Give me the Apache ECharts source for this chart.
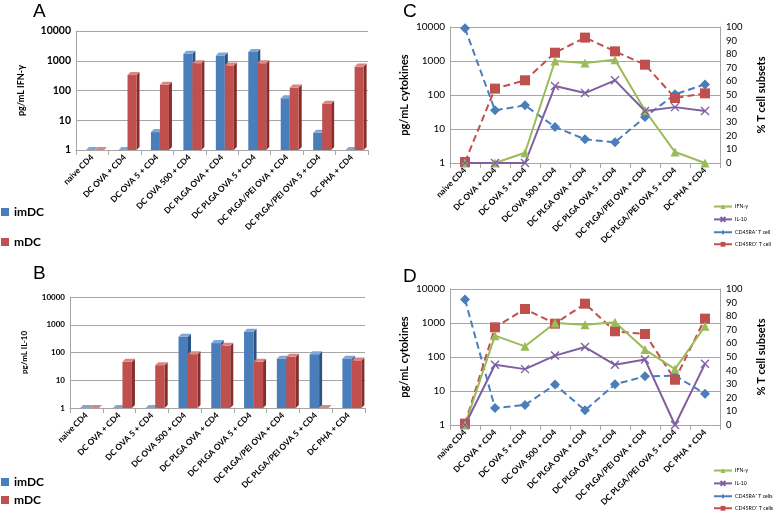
<!DOCTYPE html>
<html><head><meta charset="utf-8">
<script src="https://cdn.jsdelivr.net/npm/echarts@6/dist/echarts.min.js"></script>
<style>html,body{margin:0;padding:0;background:#fff}#c{width:778px;height:514px}</style>
</head><body><div id="c"></div>
<script>
const categories = ["naive CD4","DC OVA + CD4","DC OVA 5 + CD4","DC OVA 500 + CD4","DC PLGA OVA + CD4","DC PLGA OVA 5 + CD4","DC PLGA/PEI OVA + CD4","DC PLGA/PEI OVA 5 + CD4","DC PHA + CD4"];
// Panel A: IFN-γ (pg/mL)
const ifnImDC = [1,1,4,1730,1500,1950,55,3.8,1];
const ifnMDC  = [1,330,156,820,690,820,126,36,635];
// Panel B: IL-10 (pg/mL)
const il10ImDC = [1,1,1,370,218,565,60,87,60];
const il10MDC  = [1,46,35,87,175,46,70,1,52];
// Panel C
const ifnC  = [1,1,2,1000,870,1090,35,2.1,1];
const il10C = [1,1,1,183,114,270,34,44,34];
const raC   = [99,38.7,42.4,26.5,17.4,15.2,33.8,50.5,57.8];
const roC   = [0.7,54.7,60.8,81.1,92.2,82.1,72.3,47.8,51.2];
// Panel D
const ifnD  = [1,425,206,1000,890,1050,165,44,800];
const il10D = [1,59,44,110,196,59,84,1,63];
const raD   = [92.2,12.5,14.7,29.7,10.8,29.9,35.8,36.3,23.0];
const roD   = [1,71.8,85.3,74.5,89.2,68.9,66.9,33.3,78.2];
const logTicks = ["1","10","100","1000","10000"];

const FONT = 'Lato';
const BLUE = '#4A7EBB', RED = '#C0504D', GREEN = '#9BBB59', PURPLE = '#7F5FA0';

function bar3D(idx, front, side, top, barW){
  return function(params, api){
    const i = api.value(0), v = api.value(1);
    const c = api.coord([i, v]);
    const b = api.coord([i, 1]);
    const band = api.coord([1,1])[0] - api.coord([0,1])[0];
    const x0 = c[0] - band*0.19 + idx*barW;
    const x1 = x0 + barW;
    const yt = c[1], yb = b[1], d = 3;
    return {type:'group', children:[
      {type:'polygon', shape:{points:[[x1,yt],[x1+d,yt-d],[x1+d,yb-d],[x1,yb]]}, style:{fill:side}},
      {type:'rect', shape:{x:x0, y:yt, width:barW, height:Math.max(yb-yt,0)}, style:{fill:front}},
      {type:'polygon', shape:{points:[[x0,yt],[x0+d,yt-d],[x1+d,yt-d],[x1,yt]]}, style:{fill:top}}
    ]};
  };
}
function pairs(arr){ return arr.map((v,i)=>[i,v]); }

function catAxis(gi, fs){
  return {type:'category', gridIndex:gi, data:categories, boundaryGap:true,
    axisLine:{lineStyle:{color:'#A6A6A6'}}, axisTick:{show:true, interval:0, lineStyle:{color:'#A6A6A6'}},
    axisLabel:{interval:0, rotate:45, fontFamily:FONT, fontWeight:'bold', fontSize:fs, color:'#000', margin:6}};
}
function logAxis(gi, fs, name, nfs, gap, bold){
  return {type:'log', logBase:10, gridIndex:gi, min:1, max:10000, name:name, nameLocation:'middle', nameGap:gap,
    nameTextStyle:{fontFamily:FONT, fontWeight:'bold', fontSize:nfs, color:'#000'},
    axisLine:{show:true, lineStyle:{color:'#A6A6A6'}}, axisTick:{show:false},
    splitLine:{show:true, lineStyle:{color:'#A6A6A6'}},
    axisLabel:{fontFamily:FONT, fontWeight:bold?'bold':'normal', fontSize:fs, color:'#000', margin:5,
      formatter: v => logTicks[Math.round(Math.log10(v))]}};
}
function pctAxis(gi){
  return {type:'value', gridIndex:gi, min:0, max:100, interval:10, position:'right', name:'% T cell subsets',
    nameLocation:'middle', nameGap:36, nameRotate:90,
    nameTextStyle:{fontFamily:FONT, fontWeight:'bold', fontSize:11, color:'#000'},
    axisLine:{show:true, lineStyle:{color:'#A6A6A6'}}, axisTick:{show:false}, splitLine:{show:false},
    axisLabel:{fontFamily:FONT, fontSize:9.5, color:'#000', margin:6}};
}
const XPATH = 'path://M0,0L10,10M10,0L0,10';
function lineSeries(name, data, xi, yi, color, symbol, size, dashed){
  return {type:'line', name:name, data:data, xAxisIndex:xi, yAxisIndex:yi, symbol:symbol, symbolSize:size,
    lineStyle:{color:color, width:2, type: dashed ? [7,4] : 'solid'},
    itemStyle: symbol===XPATH ? {color:'rgba(0,0,0,0)', borderColor:color, borderWidth:1.4} : {color:color, borderWidth:0},
    animation:false};
}
function smallLegend(top, names){
  return {left:713, top:top, orient:'vertical', itemWidth:18, itemHeight:6, itemGap:7, padding:0, selectedMode:false,
    textStyle:{fontFamily:FONT, fontSize:5.2, color:'#000', padding:[0,0,0,-2]}, data:names};
}

const option = {
  animation:false,
  grid:[
    {left:76, right:410, top:31, bottom:364},
    {left:70, right:413, top:297, bottom:106},
    {left:450, right:58, top:27, bottom:351},
    {left:450, right:58, top:289, bottom:89}
  ],
  xAxis:[catAxis(0,8.3), catAxis(1,8.3), catAxis(2,8.3), catAxis(3,8.3)],
  yAxis:[
    logAxis(0,10.5,'pg/mL IFN-γ',9,50,true),
    logAxis(1,8,'pg/mL IL-10',8,42,true),
    logAxis(2,10,'pg/mL cytokines',11,40,false),
    pctAxis(2),
    logAxis(3,10,'pg/mL cytokines',11,40,false),
    pctAxis(3)
  ],
  legend:[
    {left:1, top:206, orient:'vertical', itemWidth:8, itemHeight:8, itemGap:18, padding:0, icon:'rect', selectedMode:false,
      textStyle:{fontFamily:FONT, fontWeight:'bold', fontSize:12, color:'#000'}, data:['imDC','mDC']},
    {left:1, top:476, orient:'vertical', itemWidth:8, itemHeight:8, itemGap:6, padding:0, icon:'rect', selectedMode:false,
      textStyle:{fontFamily:FONT, fontWeight:'bold', fontSize:12, color:'#000'}, data:['imDC','mDC']},
    smallLegend(204, ['IFN-γ','IL-10','CD45RA⁺ T cell','CD45RO⁺ T cell']),
    smallLegend(468, ['IFN-γ','IL-10','CD45RA⁺ T cells','CD45RO⁺ T cells'])
  ],
  graphic:[
    {type:'text', left:33, top:2, style:{text:'A', fontFamily:'Liberation Sans', fontSize:19, fill:'#000'}},
    {type:'text', left:33, top:264, style:{text:'B', fontFamily:'Liberation Sans', fontSize:19, fill:'#000'}},
    {type:'text', left:403, top:2, style:{text:'C', fontFamily:'Liberation Sans', fontSize:19, fill:'#000'}},
    {type:'text', left:403, top:267, style:{text:'D', fontFamily:'Liberation Sans', fontSize:19, fill:'#000'}}
  ],
  series:[
    {type:'custom', name:'imDC', xAxisIndex:0, yAxisIndex:0, data:pairs(ifnImDC), itemStyle:{color:BLUE}, renderItem:bar3D(0,BLUE,'#2C5282','#7FA6D8',9)},
    {type:'custom', name:'mDC', xAxisIndex:0, yAxisIndex:0, data:pairs(ifnMDC), itemStyle:{color:RED}, renderItem:bar3D(1,RED,'#862E2C','#D98684',9)},
    {type:'custom', name:'imDC', xAxisIndex:1, yAxisIndex:1, data:pairs(il10ImDC), itemStyle:{color:BLUE}, renderItem:bar3D(0,BLUE,'#2C5282','#7FA6D8',9.5)},
    {type:'custom', name:'mDC', xAxisIndex:1, yAxisIndex:1, data:pairs(il10MDC), itemStyle:{color:RED}, renderItem:bar3D(1,RED,'#862E2C','#D98684',9.5)},
    lineSeries('CD45RA⁺ T cell', raC, 2, 3, BLUE, 'diamond', 10, true),
    lineSeries('CD45RO⁺ T cell', roC, 2, 3, RED, 'rect', 10, true),
    lineSeries('IFN-γ', ifnC, 2, 2, GREEN, 'triangle', 9, false),
    lineSeries('IL-10', il10C, 2, 2, PURPLE, XPATH, 8, false),
    lineSeries('CD45RA⁺ T cells', raD, 3, 5, BLUE, 'diamond', 10, true),
    lineSeries('CD45RO⁺ T cells', roD, 3, 5, RED, 'rect', 10, true),
    lineSeries('IFN-γ', ifnD, 3, 4, GREEN, 'triangle', 9, false),
    lineSeries('IL-10', il10D, 3, 4, PURPLE, XPATH, 8, false)
  ]
};
const chart = echarts.init(document.getElementById('c'), null, {renderer:'canvas'});
chart.setOption(option);
</script></body></html>
